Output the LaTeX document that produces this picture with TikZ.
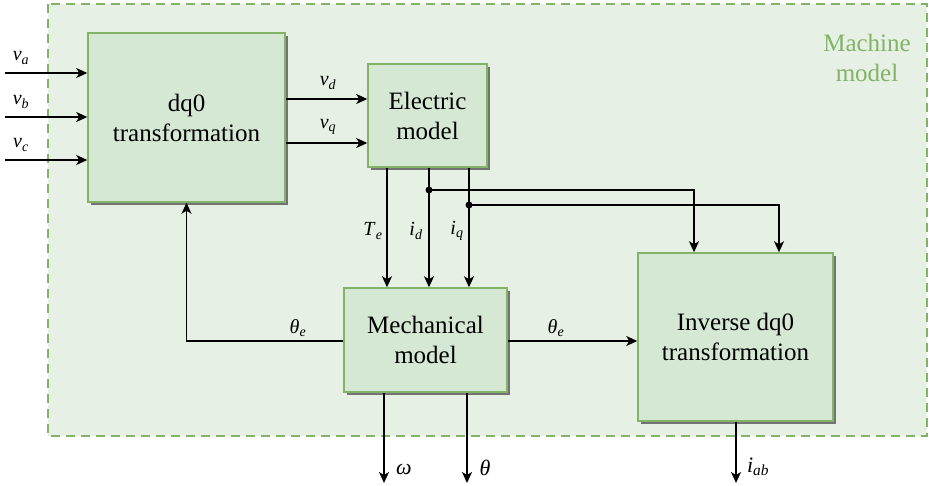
\documentclass[tikz,border=0pt]{standalone}
\usepackage{fontspec}
\setmainfont{Liberation Serif}
\usetikzlibrary{arrows.meta,shadows}

\definecolor{blockfill}{HTML}{D5E8D4}
\definecolor{blockline}{HTML}{82B366}
\definecolor{areafill}{HTML}{E6F0E4}
\newcommand{\sig}[2]{\textit{#1}\textsubscript{\textit{#2}}}

\tikzset{
  block/.style={draw=blockline, fill=blockfill, line width=1.5pt, align=center,
    font=\fontsize{25}{30}\selectfont,
    drop shadow={shadow xshift=3pt, shadow yshift=-3pt, fill=black!55, opacity=1}},
  area/.style={draw=blockline, fill=areafill, line width=1.3pt, dash pattern=on 9pt off 6pt},
  sig/.style={-{Stealth[length=11pt,width=10pt,inset=3pt]}, line width=1.5pt},
  lbl/.style={font=\fontsize{20}{24}\selectfont, inner sep=0pt},
  outlbl/.style={font=\fontsize{22}{26}\selectfont, inner sep=0pt},
  junc/.style={circle, fill=black, inner sep=0pt, minimum size=7pt}
}

\begin{document}
\begin{tikzpicture}[x=1pt, y=-1pt]
    \useasboundingbox (0,0) rectangle (929,486);
    \draw[area] (48,4) rectangle (927,436);
    \node[text=blockline, align=center, font=\fontsize{25}{30}\selectfont] (title) at (867,58) {Machine\\model};

    \node[block, minimum width=197pt, minimum height=169pt] (dq0) at (186.5,117.5) {dq0\\transformation};
    \node[block, minimum width=119pt, minimum height=103pt] (el) at (427.5,115.5) {Electric\\model};
    \node[block, minimum width=163pt, minimum height=104pt] (mech) at (425.5,340) {Mechanical\\model};
    \node[block, minimum width=195pt, minimum height=168pt] (inv) at (735.5,337) {Inverse dq0\\transformation};

    % inputs
    \coordinate (va) at (5,73);
    \coordinate (vb) at (5,117);
    \coordinate (vc) at (5,160);
    \draw[sig] (va) -- (va -| dq0.west);
    \draw[sig] (vb) -- (vb -| dq0.west);
    \draw[sig] (vc) -- (vc -| dq0.west);
    \node[lbl] (lva) at (21,58) {\sig{v}{a}};
    \node[lbl] (lvb) at (21,102) {\sig{v}{b}};
    \node[lbl] (lvc) at (21,145) {\sig{v}{c}};

    % dq0 -> electric
    \coordinate (rowd) at (0,99);
    \coordinate (rowq) at (0,143);
    \draw[sig] (dq0.east |- rowd) -- (el.west |- rowd);
    \draw[sig] (dq0.east |- rowq) -- (el.west |- rowq);
    \node[lbl] (lvd) at (328,83) {\sig{v}{d}};
    \node[lbl] (lvq) at (328,127) {\sig{v}{q}};

    % electric -> mechanical
    \coordinate (colT) at (387,0);
    \coordinate (cold) at (429,0);
    \coordinate (colq) at (469,0);
    \draw[sig] (el.south -| colT) -- (mech.north -| colT);
    \draw[sig] (el.south -| cold) -- (mech.north -| cold);
    \draw[sig] (el.south -| colq) -- (mech.north -| colq);
    \node[lbl] (lTe) at (373,231) {\sig{T}{e}};
    \node[lbl] (lid) at (416,231) {\sig{i}{d}};
    \node[lbl] (liq) at (457,231) {\sig{i}{q}};

    % currents to inverse transformation
    \node[junc] (jd) at (429,190) {};
    \node[junc] (jq) at (469,205) {};
    \coordinate (cold2) at (694,0);
    \coordinate (colq2) at (779,0);
    \draw[sig] (jd.center) -| (inv.north -| cold2);
    \draw[sig] (jq.center) -| (inv.north -| colq2);

    % angle feedback and output
    \coordinate (rowth) at (0,341);
    \draw[sig] (mech.west |- rowth) -| (dq0.south);
    \draw[sig] (mech.east |- rowth) -- (inv.west |- rowth);
    \node[lbl] (lthl) at (298,328) {\sig{θ}{e}};
    \node[lbl] (lthr) at (556,328) {\sig{θ}{e}};

    % outputs
    \coordinate (outw) at (384,483);
    \coordinate (outt) at (467,483);
    \coordinate (outi) at (736,483);
    \draw[sig] (mech.south -| outw) -- (outw);
    \draw[sig] (mech.south -| outt) -- (outt);
    \draw[sig] (inv.south -| outi) -- (outi);
    \node[outlbl] (lw) at (404,469) {\textit{ω}};
    \node[outlbl] (lt) at (485,468) {\textit{θ}};
    \node[outlbl] (liab) at (758,467) {\sig{i}{ab}};
\end{tikzpicture}
\end{document}
